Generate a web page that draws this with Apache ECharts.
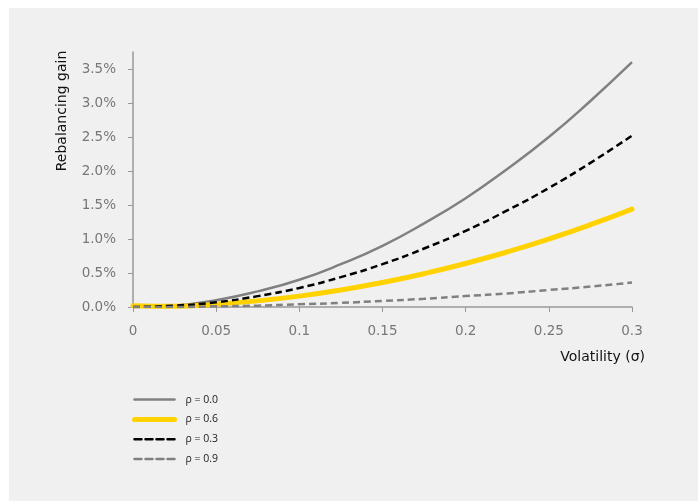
<!DOCTYPE html>
<html><head><meta charset="utf-8">
<script src="https://cdn.jsdelivr.net/npm/echarts@6/dist/echarts.min.js"></script>
<style>
html,body{margin:0;padding:0;background:#fff;}
#wrap{position:relative;width:698px;height:501px;background:#fff;overflow:hidden;}
#chart{position:absolute;left:9px;top:8px;width:689px;height:493px;background:#f0f0f0;}
</style></head>
<body><div id="wrap"><div id="chart"></div></div>
<script>
const volatility = [0, 0.025, 0.05, 0.075, 0.1, 0.125, 0.15, 0.175, 0.2, 0.225, 0.25, 0.275, 0.3];
const rho00 = [0.00, 0.02, 0.10, 0.23, 0.40, 0.63, 0.90, 1.23, 1.60, 2.03, 2.50, 3.03, 3.60];
const rho06 = [0.02, 0.01, 0.04, 0.09, 0.16, 0.25, 0.36, 0.49, 0.64, 0.81, 1.00, 1.21, 1.44];
const rho03 = [0.00, 0.02, 0.07, 0.16, 0.28, 0.44, 0.63, 0.86, 1.12, 1.42, 1.75, 2.12, 2.52];
const rho09 = [0.00, 0.00, 0.01, 0.02, 0.04, 0.06, 0.09, 0.12, 0.16, 0.20, 0.25, 0.30, 0.36];
const seriesNames = ['ρ = 0.0', 'ρ = 0.6', 'ρ = 0.3', 'ρ = 0.9'];
const yTicks = [0, 0.5, 1.0, 1.5, 2.0, 2.5, 3.0, 3.5];
const xTicks = [0, 0.05, 0.1, 0.15, 0.2, 0.25, 0.3];

const pairs = arr => volatility.map((x, i) => [x, arr[i]]);
const FONT = '"DejaVu Sans", "Open Sans", sans-serif';
const LFONT = '"Open Sans", "DejaVu Sans", sans-serif';

const chart = echarts.init(document.getElementById('chart'), null, {renderer: 'canvas'});
chart.setOption({
  animation: false,
  backgroundColor: '#f0f0f0',
  textStyle: {fontFamily: FONT},
  grid: {left: 124, right: 66, top: 44, bottom: 194, containLabel: false},
  xAxis: {
    type: 'value', min: 0, max: 0.3, interval: 0.05,
    name: 'Volatility (σ)', nameLocation: 'end', nameGap: 13,
    nameTextStyle: {color: '#111', fontSize: 14, fontFamily: FONT, align: 'right', verticalAlign: 'top', padding: [43, 0, 0, 0]},
    axisLine: {show: true, lineStyle: {color: '#999', width: 1.5}},
    axisTick: {show: true, inside: false, length: 5, lineStyle: {color: '#999', width: 1}, customValues: xTicks},
    axisLabel: {color: '#777', fontSize: 13.5, margin: 17, fontFamily: FONT, customValues: xTicks,
      formatter: v => String(+(+v).toFixed(2))},
    splitLine: {show: false}
  },
  yAxis: {
    type: 'value', min: 0, max: 3.75, interval: 0.5,
    axisLine: {show: true, lineStyle: {color: '#999', width: 1.5}},
    axisTick: {show: true, inside: false, length: 5, lineStyle: {color: '#999', width: 1}, customValues: yTicks},
    axisLabel: {color: '#777', fontSize: 13.5, margin: 17, fontFamily: FONT, customValues: yTicks,
      formatter: v => (+v).toFixed(1) + '%'},
    splitLine: {show: false}
  },
  graphic: [{
    type: 'text', x: 53, y: 103, rotation: Math.PI / 2,
    style: {text: 'Rebalancing gain', fill: '#111', font: '14px ' + FONT, align: 'center', verticalAlign: 'middle'}
  }],
  legend: {
    orient: 'vertical', left: 118, top: 381,
    itemWidth: 40, itemHeight: 14, itemGap: 8.6,
    data: seriesNames,
    itemStyle: {opacity: 0, color: 'transparent', borderWidth: 0},
    lineStyle: {width: 'inherit', type: 'inherit', color: 'inherit', cap: 'round'},
    textStyle: {color: '#222', fontSize: 10.5, fontFamily: LFONT, padding: [0, 0, 0, 6]}
  },
  series: [
    {name: seriesNames[0], type: 'line', data: pairs(rho00), smooth: true, symbol: 'none',
      lineStyle: {color: '#808080', width: 2.5}, itemStyle: {color: '#808080'}},
    {name: seriesNames[1], type: 'line', data: pairs(rho06), smooth: true, symbol: 'none',
      lineStyle: {color: '#FFD200', width: 5, cap: 'round'}, itemStyle: {color: '#FFD200'}},
    {name: seriesNames[2], type: 'line', data: pairs(rho03), smooth: true, symbol: 'none',
      lineStyle: {color: '#000000', width: 2.5, type: [7, 4]}, itemStyle: {color: '#000000'}},
    {name: seriesNames[3], type: 'line', data: pairs(rho09), smooth: true, symbol: 'none',
      lineStyle: {color: '#808080', width: 2.5, type: [7, 4]}, itemStyle: {color: '#808080'}}
  ]
});
</script></body></html>
